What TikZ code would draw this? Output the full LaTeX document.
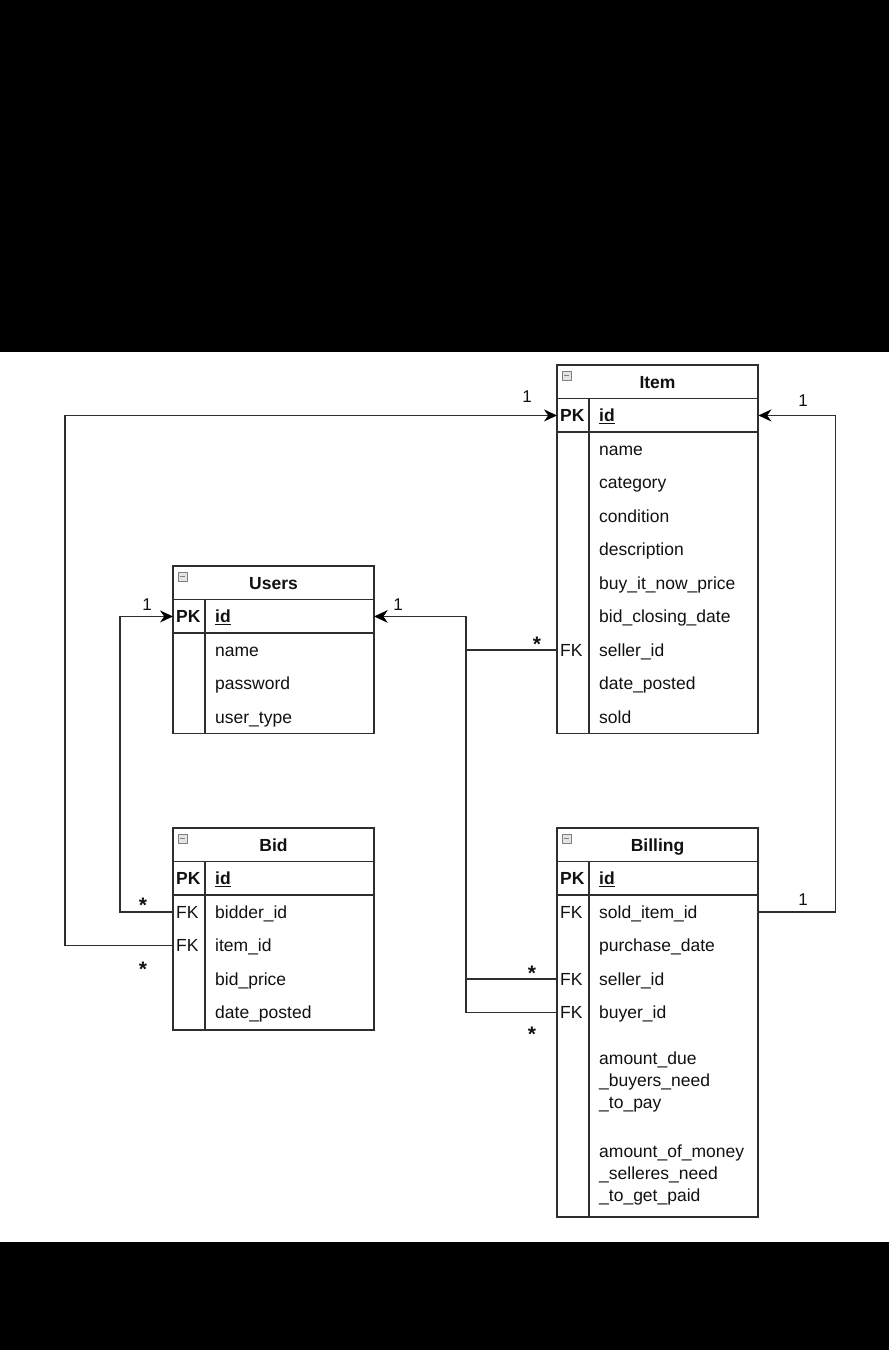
\documentclass[tikz,border=0pt]{standalone}
\usepackage{fontspec}
\setmainfont{Liberation Sans}
\usetikzlibrary{arrows.meta}

\definecolor{edge}{HTML}{2E2E2E}
\definecolor{ink}{HTML}{111111}
\definecolor{iconfill}{HTML}{E4E4E4}

\tikzset{
  x=1pt, y=-1pt,
  tablebox/.style={draw=edge, line width=1.4pt, fill=white},
  rule/.style={draw=edge, line width=1.4pt},
  keyrule/.style={draw=edge, line width=1.8pt},
  fieldrow/.style={inner sep=0pt, minimum width=201pt, minimum height=33.5pt, anchor=north west},
  keytxt/.style={anchor=west, inner sep=0pt, text height=12.5pt, text depth=0pt,
    font=\fontsize{17.5}{20}\selectfont, text=ink},
  fieldtxt/.style={keytxt},
  titletxt/.style={inner sep=0pt, text height=12.5pt, text depth=0pt,
    font=\fontsize{17.5}{20}\selectfont\bfseries, text=ink},
  multitxt/.style={anchor=north west, inner sep=0pt, align=left,
    font=\fontsize{17.5}{22}\selectfont, text=ink},
  reltxt/.style={anchor=base, inner sep=0pt, font=\fontsize{17}{19}\selectfont, text=ink},
  startxt/.style={anchor=base, inner sep=0pt, font=\fontsize{21}{22}\selectfont\bfseries, text=ink},
  link/.style={draw=edge, line width=1.4pt},
  linkarrow/.style={link, -{Stealth[length=13pt, width=12pt, color=black]}},
  foldicon/.style={draw=gray, fill=iconfill, line width=0.7pt}
}

% frame of one table: name, left, top, bottom, title
\newcommand\ertable[5]{%
  \draw[tablebox] (#2,#3) rectangle (#2+201,#4);
  \draw[rule] (#2,#3+33.5) -- (#2+201,#3+33.5);
  \draw[rule] (#2,#3+67) -- (#2+201,#3+67);
  \draw[keyrule] (#2+32,#3+33.5) -- (#2+32,#4);
  \draw[foldicon] (#2+5,#3+6) rectangle (#2+14,#3+15);
  \draw[gray, line width=0.9pt] (#2+7,#3+10.5) -- (#2+12,#3+10.5);
  \node[titletxt] (#1-title) at (#2+100.5,#3+17.5) {#5};
  \node[fieldrow] (#1-pk) at (#2,#3+33.5) {};
  \node[keytxt, font=\fontsize{17.5}{20}\selectfont\bfseries] at ([xshift=3pt]#1-pk.west) {PK};
  \node[fieldtxt, font=\fontsize{17.5}{20}\selectfont\bfseries] at ([xshift=42pt]#1-pk.west) {\underline{id}};
}

% one field row: name, left, top, key, text
\newcommand\erfield[5]{%
  \node[fieldrow] (#1) at (#2,#3) {};
  \node[keytxt] at ([xshift=3pt]#1.west) {#4};
  \node[fieldtxt] at ([xshift=42pt]#1.west) {#5};
}

\begin{document}
\begin{tikzpicture}
  \useasboundingbox (0,0) rectangle (889,1350);
  \fill[white] (0,0) rectangle (889,1350);
  \fill[black] (0,0) rectangle (889,352);
  \fill[black] (0,1242) rectangle (889,1350);

  % Item
  \ertable{item}{557}{365}{733.5}{Item}
  \erfield{item-name}{557}{432}{}{name}
  \erfield{item-category}{557}{465.5}{}{category}
  \erfield{item-condition}{557}{499}{}{condition}
  \erfield{item-description}{557}{532.5}{}{description}
  \erfield{item-price}{557}{566}{}{buy\_it\_now\_price}
  \erfield{item-closing}{557}{599.5}{}{bid\_closing\_date}
  \erfield{item-seller}{557}{633}{FK}{seller\_id}
  \erfield{item-posted}{557}{666.5}{}{date\_posted}
  \erfield{item-sold}{557}{700}{}{sold}

  % Users
  \ertable{users}{173}{566}{733.5}{Users}
  \erfield{users-name}{173}{633}{}{name}
  \erfield{users-password}{173}{666.5}{}{password}
  \erfield{users-type}{173}{700}{}{user\_type}

  % Bid
  \ertable{bid}{173}{828}{1030}{Bid}
  \erfield{bid-bidder}{173}{895}{FK}{bidder\_id}
  \erfield{bid-item}{173}{928.5}{FK}{item\_id}
  \erfield{bid-price}{173}{962}{}{bid\_price}
  \erfield{bid-posted}{173}{995.5}{}{date\_posted}

  % Billing
  \ertable{billing}{557}{828}{1217}{Billing}
  \erfield{billing-sold}{557}{895}{FK}{sold\_item\_id}
  \erfield{billing-date}{557}{928.5}{}{purchase\_date}
  \erfield{billing-seller}{557}{962}{FK}{seller\_id}
  \erfield{billing-buyer}{557}{995.5}{FK}{buyer\_id}
  \node[multitxt] (billing-due) at (599,1052) {amount\_due\\\_buyers\_need\\\_to\_pay};
  \node[multitxt] (billing-owed) at (599,1145) {amount\_of\_money\\\_selleres\_need\\\_to\_get\_paid};

  % relationships
  \draw[linkarrow] (bid-item.west) -- ++(-108,0) |- (item-pk.west);
  \draw[linkarrow] (bid-bidder.west) -- ++(-53,0) |- (users-pk.west);
  \draw[linkarrow] (item-seller.west) -- ++(-91,0) |- (users-pk.east);
  \draw[link] (billing-seller.west) -- ++(-91,0);
  \draw[linkarrow] (billing-buyer.west) -- ++(-91,0) |- (users-pk.east);
  \draw[linkarrow] (billing-sold.east) -- ++(77,0) |- (item-pk.east);

  % multiplicities
  \node[reltxt] (m-item-l) at (527,402) {1};
  \node[reltxt] (m-item-r) at (803,406) {1};
  \node[reltxt] (m-users-l) at (147,610) {1};
  \node[reltxt] (m-users-r) at (398,610) {1};
  \node[reltxt] (m-billing-sold) at (803,905) {1};
  \node[startxt] (m-bid-bidder) at (143,912) {*};
  \node[startxt] (m-bid-item) at (143,976) {*};
  \node[startxt] (m-item-seller) at (537,651) {*};
  \node[startxt] (m-billing-seller) at (532,980) {*};
  \node[startxt] (m-billing-buyer) at (532,1041) {*};
\end{tikzpicture}
\end{document}
